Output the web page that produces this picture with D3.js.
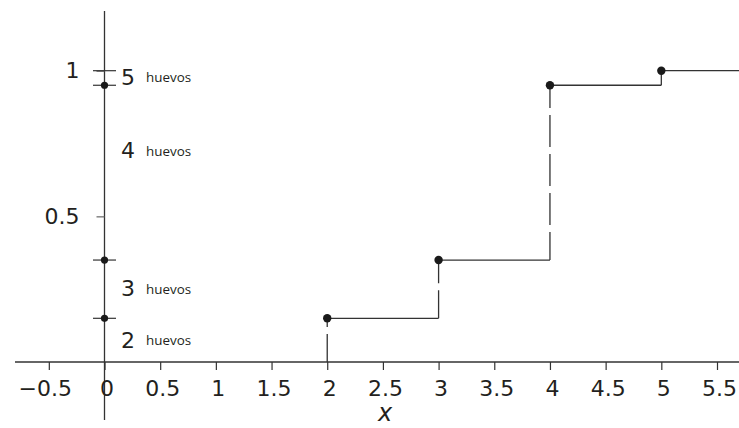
<!DOCTYPE html>
<html>
<head>
<meta charset="utf-8">
<script src="https://cdn.jsdelivr.net/npm/d3@7"></script>
<style>
  body { margin: 0; background: #fff; }
  svg { display: block; }
</style>
</head>
<body>
<svg id="cdf-plot"></svg>
<script>
// data: step CDF of number of eggs
const stepX = [2, 3, 4, 5];
const stepF = [0.15, 0.35, 0.95, 1];
const xTicks = [-0.5, 0, 0.5, 1, 1.5, 2, 2.5, 3, 3.5, 4, 4.5, 5, 5.5];
const yTickLabels = [0.5, 1];
const eggCounts = [2, 3, 4, 5];
const eggLabelY = [0.076, 0.252, 0.726, 0.977];
const eggWord = 'huevos';

const config = {
    width: 739,
    height: 428,
    ink: '#231f20',
    line: '#333'
};

let svg = d3.select('#cdf-plot')
    .attr('width', config.width)
    .attr('height', config.height);

// scales
let xScale = d3.scaleLinear()
    .domain([0, 5.5])
    .range([104.5, 717]);

let yScale = d3.scaleLinear()
    .domain([0, 1])
    .range([362, 70.7]);

const x0 = xScale(0);
const y0 = yScale(0);

// axis lines
svg.append('line')
    .attr('x1', 15).attr('x2', config.width)
    .attr('y1', y0).attr('y2', y0)
    .style('stroke', config.line).style('stroke-width', 1.3);

svg.append('line')
    .attr('x1', x0).attr('x2', x0)
    .attr('y1', 11).attr('y2', 420)
    .style('stroke', config.line).style('stroke-width', 1.3);

// x axis ticks + labels
let xAxis = svg.append('g')
    .attr('transform', `translate(0,${y0})`)
    .call(d3.axisBottom(xScale)
        .tickValues(xTicks)
        .tickSize(8)
        .tickPadding(10)
        .tickFormat(d => d < 0 ? '\u2212' + Math.abs(d) : String(d)));
xAxis.select('.domain').remove();
xAxis.selectAll('line').style('stroke', config.line).style('stroke-width', 1.2);
xAxis.selectAll('text')
    .style('font-family', 'DejaVu Sans')
    .style('font-size', '22px')
    .style('fill', config.ink)
    .attr('dx', d => d < 0 ? -4 : 2);

// x axis title
svg.append('text')
    .attr('x', 385).attr('y', 421)
    .attr('text-anchor', 'middle')
    .style('font-family', 'DejaVu Sans')
    .style('font-style', 'italic')
    .style('font-size', '24px')
    .style('fill', config.ink)
    .text('x');

// y axis ticks + labels
let yAxis = svg.append('g')
    .attr('transform', `translate(${x0},0)`)
    .call(d3.axisLeft(yScale)
        .tickValues(yTickLabels)
        .tickSize(8)
        .tickPadding(17)
        .tickFormat(d => String(d)));
yAxis.select('.domain').remove();
yAxis.selectAll('line').style('stroke', '#666').style('stroke-width', 1.2);
yAxis.selectAll('text')
    .style('font-family', 'DejaVu Sans')
    .style('font-size', '22px')
    .style('fill', config.ink);

// crossing marks on the y axis at every jump level
svg.selectAll('line.cross')
    .data(stepF)
    .enter()
    .append('line')
    .attr('class', 'cross')
    .attr('x1', x0 - 11.5).attr('x2', x0 + 11.5)
    .attr('y1', d => yScale(d)).attr('y2', d => yScale(d))
    .style('stroke', config.line).style('stroke-width', 1.2);

// dots on the y axis (levels below 1)
svg.selectAll('circle.ydot')
    .data(stepF.filter(d => d < 1))
    .enter()
    .append('circle')
    .attr('class', 'ydot')
    .attr('cx', x0)
    .attr('cy', d => yScale(d))
    .attr('r', 3.6)
    .style('fill', '#1a1a1a');

// egg labels
let eggs = svg.selectAll('g.egg')
    .data(eggCounts)
    .enter()
    .append('g')
    .attr('class', 'egg')
    .attr('transform', (d, i) => `translate(121,${yScale(eggLabelY[i])})`);
eggs.append('text')
    .attr('dy', '0.35em')
    .style('font-family', 'DejaVu Sans')
    .style('font-size', '22px')
    .style('fill', config.ink)
    .text(d => d);
eggs.append('text')
    .attr('x', 25)
    .attr('y', 5)
    .style('font-family', 'Open Sans')
    .style('font-size', '13.4px')
    .style('fill', config.ink)
    .text(eggWord);

// horizontal steps
const xEnd = xScale.invert(config.width);
svg.selectAll('line.step')
    .data(stepX)
    .enter()
    .append('line')
    .attr('class', 'step')
    .attr('x1', d => xScale(d))
    .attr('x2', (d, i) => xScale(i < stepX.length - 1 ? stepX[i + 1] : xEnd))
    .attr('y1', (d, i) => yScale(stepF[i]))
    .attr('y2', (d, i) => yScale(stepF[i]))
    .style('stroke', config.line).style('stroke-width', 1.3);

// dashed jumps, drawn bottom to top
svg.selectAll('line.jump')
    .data(stepX)
    .enter()
    .append('line')
    .attr('class', 'jump')
    .attr('x1', d => xScale(d)).attr('x2', d => xScale(d))
    .attr('y1', (d, i) => yScale(i === 0 ? 0 : stepF[i - 1]))
    .attr('y2', (d, i) => yScale(stepF[i]))
    .style('stroke', config.line).style('stroke-width', 1.3)
    .style('stroke-dasharray', '32,7')
    .style('stroke-dashoffset', 4);

// jump points
svg.selectAll('circle.pt')
    .data(stepX)
    .enter()
    .append('circle')
    .attr('class', 'pt')
    .attr('cx', d => xScale(d))
    .attr('cy', (d, i) => yScale(stepF[i]))
    .attr('r', 4.2)
    .style('fill', '#1a1a1a');
</script>
</body>
</html>
